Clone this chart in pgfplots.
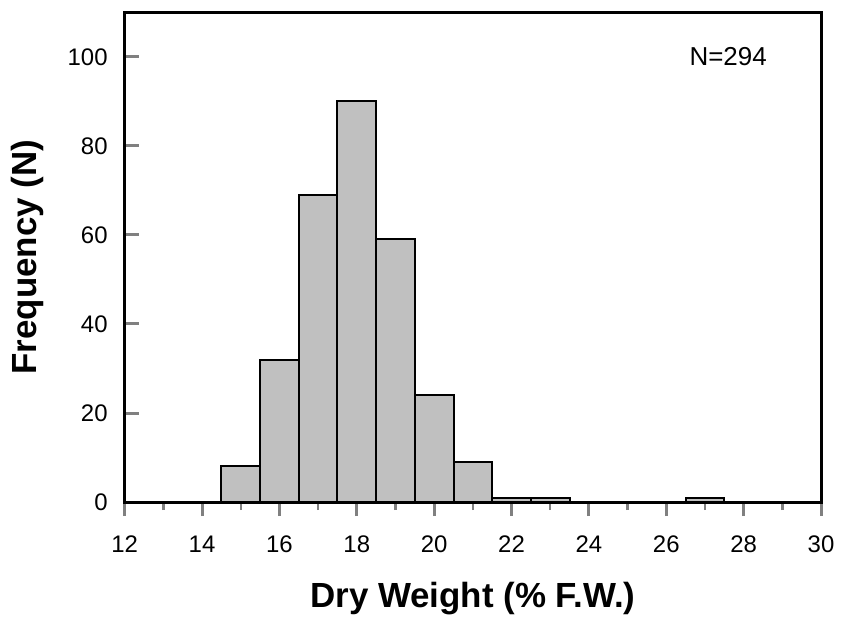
\documentclass[border=0pt]{standalone}
\usepackage{fontspec}
\setmainfont{Liberation Sans}
\usepackage{pgfplots}
\pgfplotsset{compat=1.18}
\definecolor{bargray}{RGB}{192,192,192}

\begin{document}
\begin{tikzpicture}
\begin{axis}[
    scale only axis,
    width=349pt,
    height=245.5pt,
    xmin=12, xmax=30,
    ymin=0, ymax=110,
    xtick={12,14,...,30},
    minor xtick={13,15,...,29},
    ytick={0,20,...,100},
    x tick style={line width=1.5pt},
    y tick style={line width=1.5pt},
    minor x tick style={line width=1.2pt},
    xtick pos=bottom,
    ytick pos=left,
    xtick align=outside,
    ytick align=inside,
    major tick length=7pt,
    minor tick length=4pt,
    axis line style={line width=1.5pt},
    /pgf/number format/assume math mode=true,
    tick label style={font=\fontsize{12}{14}\selectfont},
    xticklabel style={yshift=-6.5pt},
    yticklabel style={xshift=-5pt},
    xlabel={\textbf{Dry Weight (\% F.W.)}},
    ylabel={\textbf{Frequency (N)}},
    label style={font=\fontsize{17.5}{20}\selectfont, inner sep=1pt},
    xlabel style={at={(axis description cs:0.5,-0.1976)}, anchor=center},
    ylabel style={at={(axis description cs:-0.139,0.5)}, anchor=center},
    clip=false,
]
\addplot[ybar, bar width=1, fill=bargray, draw=black, line width=1pt]
coordinates {
    (15,8) (16,32) (17,69) (18,90) (19,59) (20,24)
    (21,9) (22,1) (23,1) (27,1)
};
\node[font=\fontsize{13}{15}\selectfont] at (axis cs:27.6,100) {N=294};
\path (rel axis cs:-0.179,1.025);
\end{axis}
\end{tikzpicture}
\end{document}
